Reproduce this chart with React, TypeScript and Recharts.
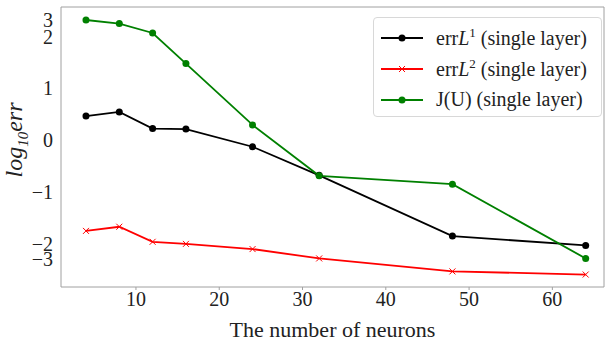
import React from "react";
import { LineChart, Line, XAxis, YAxis, Label, ReferenceArea } from "recharts";

const neurons = [4, 8, 12, 16, 24, 32, 48, 64];
const errL1 = [0.46, 0.54, 0.22, 0.21, -0.13, -0.68, -1.85, -2.03];
const errL2 = [-1.75, -1.67, -1.96, -2.0, -2.1, -2.28, -2.53, -2.59];
const jU = [2.31, 2.24, 2.06, 1.47, 0.29, -0.69, -0.85, -2.28];

const xTicks = [10, 20, 30, 40, 50, 60];
const yTickValues = [2.31, 1.98, 1, 0, -1, -2, -2.29];
const yTickLabels = ["3", "2", "1", "0", "\u22121", "\u22122", "\u22123"];

const data = neurons.map((n, i) => ({ n, l1: errL1[i], l2: errL2[i], j: jU[i] }));

const X_DOMAIN: [number, number] = [1, 66.2];
const Y_DOMAIN: [number, number] = [-2.83, 2.56];

const FONT = "'Liberation Serif', 'DejaVu Serif', serif";
const FRAME = "#a0a0a0";

const Cross = (props: any) => {
  const { cx, cy } = props;
  if (cx == null || cy == null) return null;
  const s = 3;
  return (
    <g stroke="#ff0000" strokeWidth={1}>
      <line x1={cx - s} y1={cy - s} x2={cx + s} y2={cy + s} />
      <line x1={cx - s} y1={cy + s} x2={cx + s} y2={cy - s} />
    </g>
  );
};

const legendItems = [
  { color: "#000000", marker: "dot", sup: "1", math: true, text: " (single layer)" },
  { color: "#ff0000", marker: "x", sup: "2", math: true, text: " (single layer)" },
  { color: "#008000", marker: "dot", sup: "", math: false, text: "J(U) (single layer)" },
];

const LegendBox = () => (
  <div
    style={{
      position: "absolute",
      left: 373,
      top: 17,
      width: 229,
      height: 100,
      border: "1px solid #d8d8d8",
      borderRadius: 4,
      background: "rgba(255,255,255,0.85)",
      boxSizing: "border-box",
      fontFamily: FONT,
      fontSize: 20,
      color: "#222",
      paddingTop: 4,
    }}
  >
    {legendItems.map((it, i) => (
      <div key={i} style={{ display: "flex", alignItems: "center", height: 31 }}>
        <svg width={62} height={20} style={{ flex: "none" }}>
          <line x1={7} y1={10} x2={49} y2={10} stroke={it.color} strokeWidth={2} />
          {it.marker === "dot" ? (
            <circle cx={28} cy={10} r={3.5} fill={it.color} />
          ) : (
            <g stroke={it.color} strokeWidth={1}>
              <line x1={25} y1={7} x2={31} y2={13} />
              <line x1={25} y1={13} x2={31} y2={7} />
            </g>
          )}
        </svg>
        <span style={{ whiteSpace: "nowrap" }}>
          {it.math ? (
            <>
              err<i>L</i>
              <sup style={{ fontSize: 13 }}>{it.sup}</sup>
              {it.text}
            </>
          ) : (
            it.text
          )}
        </span>
      </div>
    ))}
  </div>
);

const YLabel = () => {
  const cx = 22;
  const cy = 140;
  return (
    <text
      x={cx}
      y={cy}
      transform={`rotate(-90 ${cx} ${cy})`}
      textAnchor="middle"
      fontFamily={FONT}
      fontSize={24}
      fontStyle="italic"
      fill="#222"
    >
      log
      <tspan fontSize={15} dy={6}>10</tspan>
      <tspan dy={-6}>err</tspan>
    </text>
  );
};

export default function App() {
  return (
    <div style={{ position: "absolute", left: 0, top: 0, width: 605, height: 343 }}>
      <LineChart width={605} height={343} data={data} margin={{ top: 7, right: 1, left: 0, bottom: 0 }}>
        <ReferenceArea
          x1={X_DOMAIN[0]}
          x2={X_DOMAIN[1]}
          y1={Y_DOMAIN[0]}
          y2={Y_DOMAIN[1]}
          fill="none"
          stroke={FRAME}
          strokeWidth={1}
          ifOverflow="visible"
        />
        <XAxis
          dataKey="n"
          type="number"
          domain={X_DOMAIN}
          ticks={xTicks}
          allowDataOverflow
          height={56}
          axisLine={false}
          tickLine={{ stroke: FRAME }}
          tickSize={3}
          tick={{ fontSize: 20, fill: "#222", fontFamily: FONT }}
        >
          <Label
            value="The number of neurons"
            position="insideBottom"
            offset={6}
            style={{ fontSize: 22, fill: "#222", fontFamily: FONT }}
          />
        </XAxis>
        <YAxis
          type="number"
          domain={Y_DOMAIN}
          ticks={yTickValues}
          interval={0}
          allowDataOverflow
          width={61}
          axisLine={false}
          tickLine={false}
          tickFormatter={(v: number) => yTickLabels[yTickValues.indexOf(v)] ?? ""}
          tick={{ fontSize: 20, fill: "#222", fontFamily: FONT }}
        >
          <Label content={<YLabel />} />
        </YAxis>
        <Line
          dataKey="l1"
          stroke="#000000"
          strokeWidth={1.8}
          dot={{ r: 3.5, fill: "#000000", stroke: "none" }}
          isAnimationActive={false}
        />
        <Line
          dataKey="l2"
          stroke="#ff0000"
          strokeWidth={1.8}
          dot={<Cross />}
          isAnimationActive={false}
        />
        <Line
          dataKey="j"
          stroke="#008000"
          strokeWidth={1.8}
          dot={{ r: 3.5, fill: "#008000", stroke: "none" }}
          isAnimationActive={false}
        />
      </LineChart>
      <LegendBox />
    </div>
  );
}
